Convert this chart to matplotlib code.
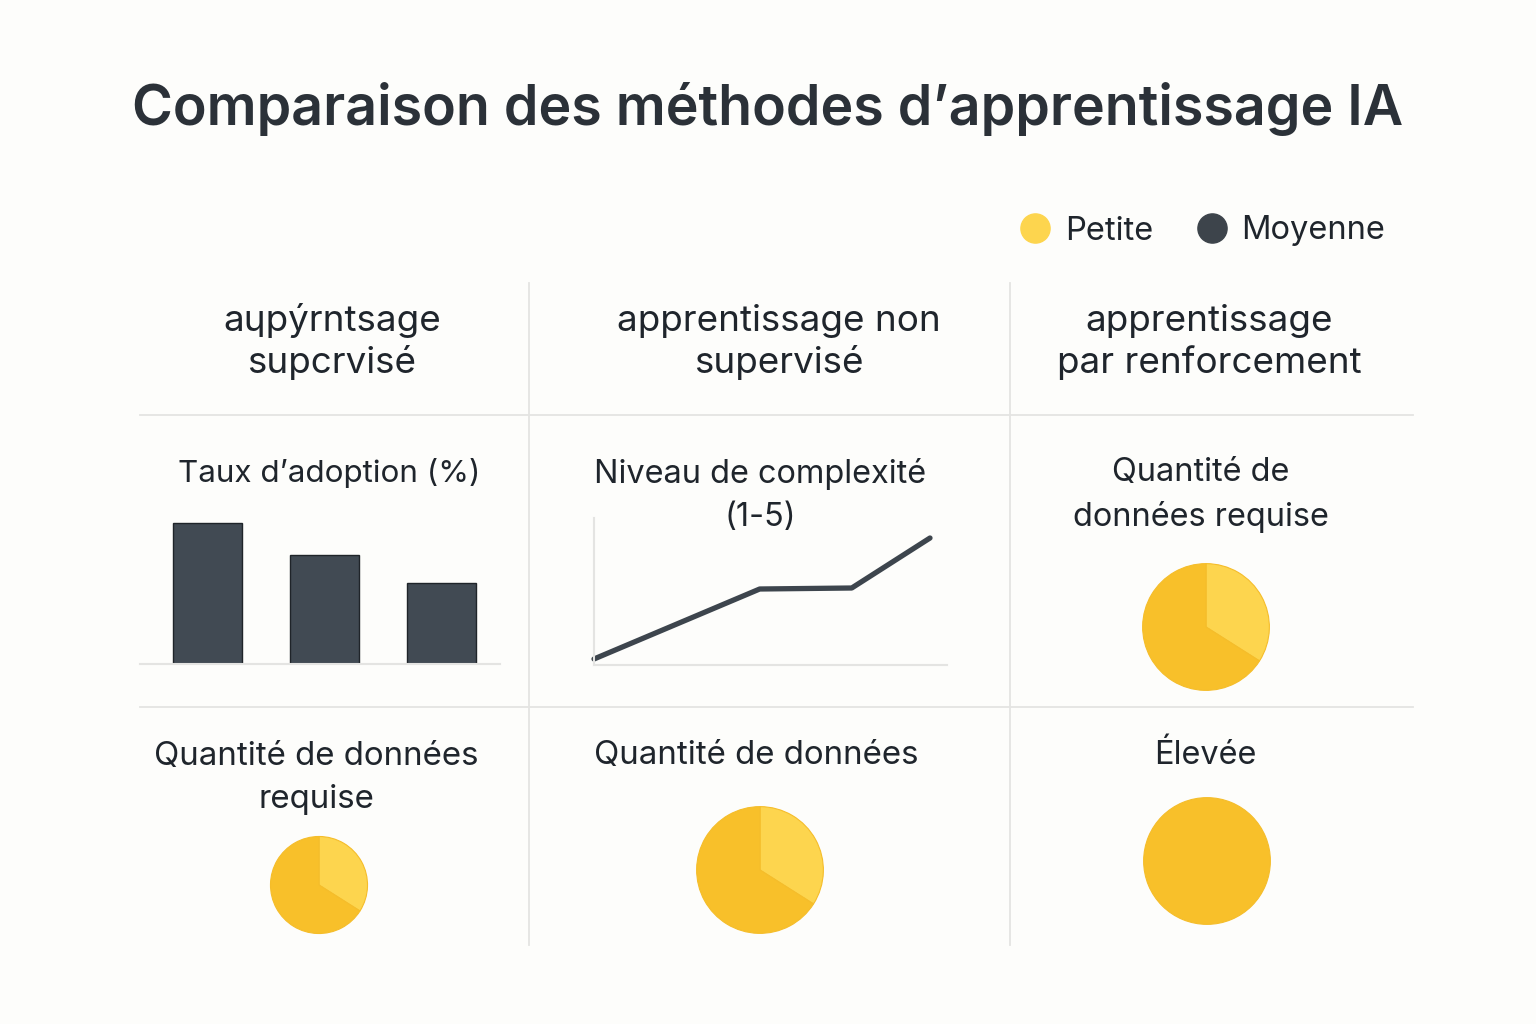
import matplotlib.pyplot as plt
from matplotlib.lines import Line2D

plt.rcParams['font.family'] = ['Inter', 'DejaVu Sans']

# data
TITLE = "Comparaison des méthodes d\u2019apprentissage IA"
HEADERS = ["a\u0265p\u00fdrntsage\nsupcrvisé", "apprentissage non\nsupervisé",
           "apprentissage\npar renforcement"]
LEGEND_LABELS = ["Petite", "Moyenne"]

adoption = [70, 54, 40]                       # Taux d'adoption (%)
complexity_x = [0.0, 1.8, 2.8, 3.65]
complexity_y = [1.0, 2.4, 2.42, 3.42]         # Niveau de complexité (1-5)

# share of "Petite" / "Moyenne" in each pie
pie_rl = [0.34, 0.66]   # renforcement, row 2
pie_sup = [0.34, 0.66]  # supervisé, row 3
pie_ns = [0.34, 0.66]   # non supervisé, row 3
pie_high = [1.0]        # Élevée

W, H = 1536, 1024
BG = '#fdfdfb'
INK = '#1f252c'
DARK = '#414a53'
YEL_LIGHT = '#fdd54e'
YEL_DARK = '#f8c02a'
GRID = '#e4e4e2'


def box(x0, y0, x1, y1):
    # pixel box (top-left origin) -> figure fraction rect
    return [x0 / W, 1 - y1 / H, (x1 - x0) / W, (y1 - y0) / H]


def txt(x, y, s, size, color=INK, **kw):
    fig.text(x / W, 1 - y / H, s, fontsize=size, color=color, ha='center', va='center',
             multialignment='center', **kw)


fig = plt.figure(figsize=(W / 100, H / 100), dpi=100, facecolor=BG)

# title
txt(768, 109, TITLE, 40, fontweight='semibold', color='#2b3138')

# legend
leg_handles = [Line2D([], [], marker='o', ls='', ms=21, color=YEL_LIGHT),
               Line2D([], [], marker='o', ls='', ms=21, color='#3d444b')]
fig.legend(leg_handles, LEGEND_LABELS, loc='center right', bbox_to_anchor=(1385 / W, 1 - 231 / H),
           ncol=2, frameon=False, fontsize=23.5, handlelength=1.0, handletextpad=0.4,
           columnspacing=1.3, labelcolor=INK, borderpad=0, borderaxespad=0)

# grid lines
grid_ax = fig.add_axes([0, 0, 1, 1])
grid_ax.set_xlim(0, W)
grid_ax.set_ylim(H, 0)
grid_ax.axis('off')
for xv in (529, 1010):
    grid_ax.plot([xv, xv], [283, 945], color=GRID, lw=1.3)
for yv in (415, 707):
    grid_ax.plot([140, 1413], [yv, yv], color=GRID, lw=1.3)

# headers
txt(332, 342, HEADERS[0], 26.5, linespacing=1.25)
txt(779, 342, HEADERS[1], 26.5, linespacing=1.25)
txt(1209, 342, HEADERS[2], 26.5, linespacing=1.25)

# row labels
LS = 1.55
txt(329, 473, "Taux d\u2019adoption (%)", 22.6)
txt(760, 495, "Niveau de complexité\n(1-5)", 23.4, linespacing=1.5)
txt(1201, 495, "Quantité de\ndonnées requise", 23.4, linespacing=1.5)
txt(316, 778, "Quantité de données\nrequise", 23.8, linespacing=1.5)
txt(756, 756, "Quantité de données", 23.8)
txt(1205, 756, "Élevée", 23.4)

# bar chart
ax = fig.add_axes(box(140, 480, 500, 664))
ax.bar(range(len(adoption)), adoption, width=0.59, color=DARK, edgecolor='#1f2429', lw=1)
ax.set_xlim(-0.577, 2.5)
ax.set_ylim(0, adoption[0] * 184 / 141)
for s in ('top', 'right', 'left'):
    ax.spines[s].set_visible(False)
ax.spines['bottom'].set_color(GRID)
ax.spines['bottom'].set_linewidth(1.5)
ax.set_xticks([])
ax.set_yticks([])
ax.patch.set_alpha(0)

# line chart
ax = fig.add_axes(box(594, 518, 947, 665))
ax.plot(complexity_x, complexity_y, color='#3d454d', lw=3.8, solid_capstyle='round',
        solid_joinstyle='round', clip_on=False)
ax.set_xlim(0, complexity_x[-1] * 353 / 336)
ax.set_ylim(0.88, 3.82)
for s in ('top', 'right'):
    ax.spines[s].set_visible(False)
for s in ('left', 'bottom'):
    ax.spines[s].set_color(GRID)
    ax.spines[s].set_linewidth(1.5)
ax.set_xticks([])
ax.set_yticks([])
ax.patch.set_alpha(0)


def pie(cx, cy, r, values):
    a = fig.add_axes(box(cx - r, cy - r, cx + r, cy + r))
    cols = [YEL_LIGHT, YEL_DARK] if len(values) > 1 else [YEL_DARK]
    a.pie(values, colors=cols, startangle=90, counterclock=False,
          wedgeprops=dict(edgecolor='#f5bd2a', linewidth=0.8))
    a.set_xlim(-1.01, 1.01)
    a.set_ylim(-1.01, 1.01)
    a.set_aspect('equal')


pie(1206, 627, 64, pie_rl)
pie(319, 885, 49, pie_sup)
pie(760, 870, 64, pie_ns)
pie(1207, 861, 64, pie_high)

fig.savefig('out.png', dpi=100, facecolor=BG)
